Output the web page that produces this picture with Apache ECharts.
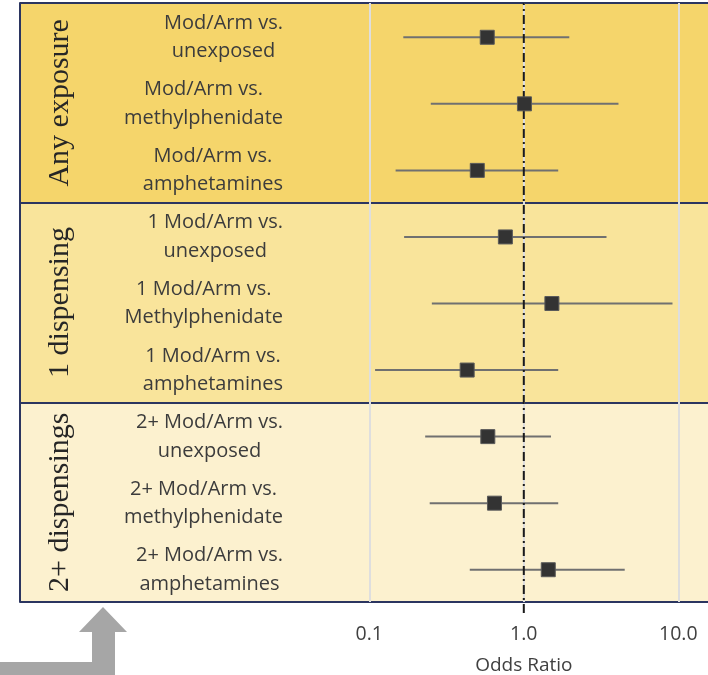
<!DOCTYPE html>
<html><head><meta charset="utf-8">
<script src="https://cdn.jsdelivr.net/npm/echarts@6/dist/echarts.min.js"></script>
<style>html,body{margin:0;padding:0;background:#fff}#c{width:708px;height:675px}</style>
</head><body><div id="c"></div>
<script>
const groups = ['Any exposure', '1 dispensing', '2+ dispensings'];
const rowLabels = [
  'Mod/Arm vs.\nunexposed', 'Mod/Arm vs.\nmethylphenidate', 'Mod/Arm vs.\namphetamines',
  '1 Mod/Arm vs.\nunexposed', '1 Mod/Arm vs.\nMethylphenidate', '1 Mod/Arm vs.\namphetamines',
  '2+ Mod/Arm vs.\nunexposed', '2+ Mod/Arm vs.\nmethylphenidate', '2+ Mod/Arm vs.\namphetamines'
];
const oddsRatio = [0.58, 1.01, 0.50, 0.76, 1.52, 0.43, 0.585, 0.646, 1.44];
const ciLower   = [0.166, 0.25, 0.148, 0.168, 0.254, 0.109, 0.23, 0.246, 0.447];
const ciUpper   = [1.97, 4.1, 1.67, 3.43, 9.17, 1.67, 1.50, 1.67, 4.5];
const xTickLabels = { '-1': '0.1', '0': '1.0', '1': '10.0' };
const refValue = 1;

const sansFont = 'Open Sans';
const bandColors = ['#F5D56B', '#F9E49B', '#FCF1CF'];
const navy = '#2B3560';

const chart = echarts.init(document.getElementById('c'));
chart.setOption({
  animation: false,
  backgroundColor: '#ffffff',
  grid: [
    { left: 20, top: 3, width: 700, height: 599, outerBoundsMode: 'none', containLabel: false },
    { left: 214.8, top: 3, width: 618, height: 599, outerBoundsMode: 'none', containLabel: false },
    { left: 214.8, top: 3, width: 618, height: 610, outerBoundsMode: 'none', containLabel: false }
  ],
  xAxis: [
    { gridIndex: 0, type: 'value', show: false, min: 0, max: 1 },
    {
      gridIndex: 1, type: 'log', logBase: 10, min: 0.01, max: 100,
      axisLine: { show: false }, axisTick: { show: false },
      splitLine: { show: true, showMinLine: false, showMaxLine: false, lineStyle: { color: '#DEDEDE', width: 2 } },
      axisLabel: {
        margin: 22, fontFamily: sansFont, fontSize: 19.5, color: '#404040',
        formatter: v => xTickLabels[String(Math.round(Math.log10(v)))] || ''
      },
      name: 'Odds Ratio', nameLocation: 'middle', nameGap: 54,
      nameTextStyle: { fontFamily: sansFont, fontSize: 19, color: '#404040' }
    },
    { gridIndex: 2, type: 'log', logBase: 10, min: 0.01, max: 100, show: false }
  ],
  yAxis: [
    {
      gridIndex: 0, type: 'category', data: groups, inverse: true,
      axisLine: { show: true, lineStyle: { color: navy, width: 2 } },
      axisTick: { show: false, interval: 0 },
      splitLine: { show: true, interval: 0, lineStyle: { color: navy, width: 2 } },
      splitArea: { show: true, interval: 0, areaStyle: { color: bandColors } },
      axisLabel: {
        interval: 0, inside: true, margin: 40, rotate: 90, align: 'center', verticalAlign: 'middle',
        fontFamily: 'Liberation Serif', fontSize: 30, color: '#262626'
      }
    },
    {
      gridIndex: 0, type: 'category', data: rowLabels, inverse: true, position: 'left', offset: 0,
      axisLine: { show: false }, axisTick: { show: false }, splitLine: { show: false },
      axisLabel: {
        interval: 0, inside: true, margin: 263, align: 'right', verticalAlign: 'middle',
        formatter: v => v.split('\n').map(s => '{c|' + s + '}').join('\n'),
        rich: { c: { align: 'center', fontFamily: sansFont, fontSize: 20, color: '#3C3C3C', lineHeight: 28.5, padding: [2, 0, 0, 0] } }
      }
    },
    { gridIndex: 1, type: 'category', data: rowLabels, inverse: true, show: false },
    { gridIndex: 2, type: 'value', min: 0, max: 1, show: false }
  ],
  graphic: [{
    type: 'polygon', silent: true,
    shape: { points: [[103, 607], [127, 632], [115, 632], [115, 675], [0, 675], [0, 662], [92, 662], [92, 632], [79, 632]] },
    style: { fill: '#A6A6A6' }
  }],
  series: [
    {
      type: 'custom', xAxisIndex: 1, yAxisIndex: 2, z: 2,
      data: oddsRatio.map((_, i) => [ciLower[i], ciUpper[i], i]),
      encode: { x: [0, 1], y: 2 },
      renderItem: (params, api) => {
        const a = api.coord([api.value(0), api.value(2)]);
        const b = api.coord([api.value(1), api.value(2)]);
        return { type: 'line', shape: { x1: a[0], y1: a[1] + 1, x2: b[0], y2: b[1] + 1 }, style: { stroke: '#707070', lineWidth: 2 } };
      }
    },
    {
      type: 'line', xAxisIndex: 2, yAxisIndex: 3, z: 3, silent: true,
      data: [[refValue, 0], [refValue, 1]], symbol: 'none',
      lineStyle: { color: '#1a1a1a', width: 2, type: [9, 4, 2, 4] }
    },
    {
      type: 'scatter', xAxisIndex: 1, yAxisIndex: 2, z: 4,
      data: oddsRatio.map((v, i) => [v, i]),
      symbol: 'rect', symbolSize: 14, symbolOffset: [0, 1],
      itemStyle: { color: '#333333', borderColor: '#5a5a5a', borderWidth: 1, opacity: 1 }
    }
  ]
});
</script>
</body></html>
